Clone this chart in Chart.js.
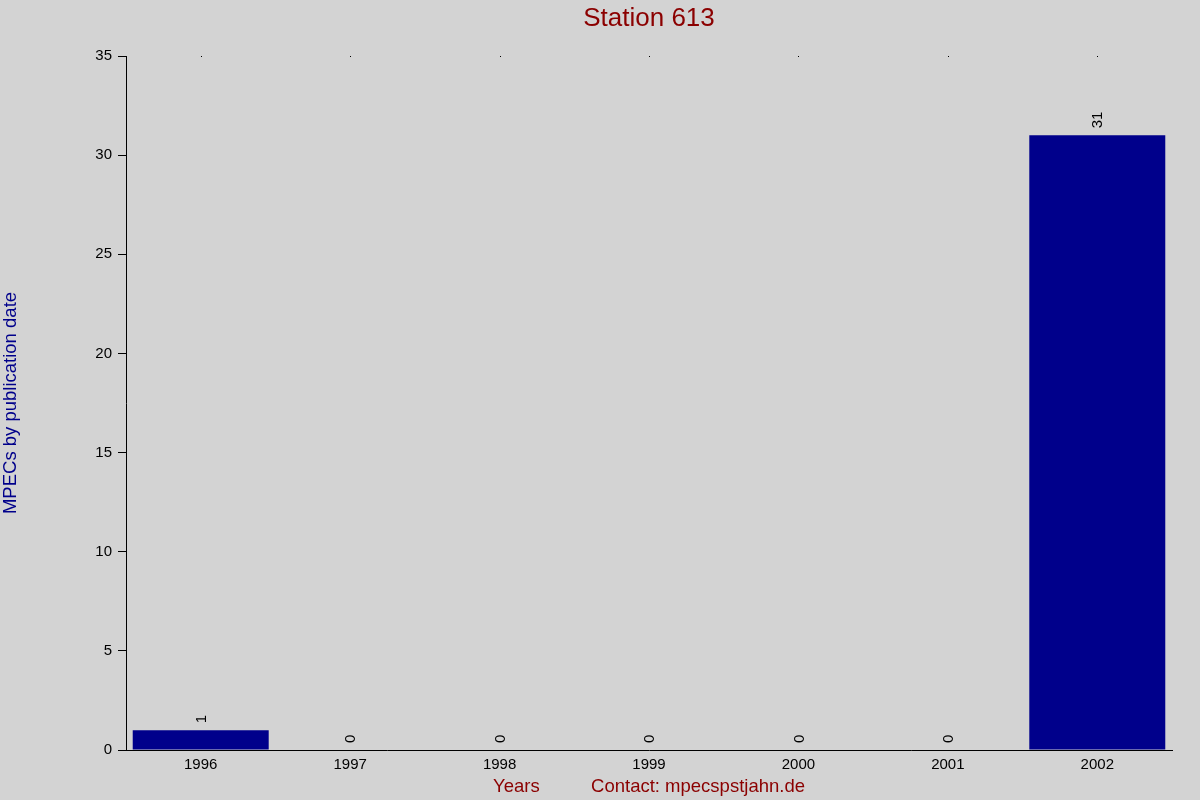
<!DOCTYPE html>
<html>
<head>
<meta charset="utf-8">
<script src="https://cdn.jsdelivr.net/npm/chart.js@4/dist/chart.umd.min.js"></script>
<style>
  html, body { margin: 0; padding: 0; background: #d3d3d3; }
  #station { display: block; width: 1200px; height: 800px; }
</style>
</head>
<body>
<canvas id="station" width="1200" height="800"></canvas>
<script>
const years = ['1996', '1997', '1998', '1999', '2000', '2001', '2002']
const mpecs = [1, 0, 0, 0, 0, 0, 31]
const yTicks = [0, 5, 10, 15, 20, 25, 30, 35]
const chartTitle = 'Station 613'

const darkRed = '#8b0000'
const darkBlue = '#00008b'
const fontFam = 'Arial, "Liberation Sans", sans-serif'

// value labels, rotated, above each bar
const barLabels = {
    id: 'barLabels',
    afterDatasetsDraw(chart) {
        const ctx = chart.ctx
        const meta = chart.getDatasetMeta(0)
        ctx.save()
        ctx.fillStyle = '#000'
        ctx.font = '15px ' + fontFam
        ctx.textAlign = 'left'
        ctx.textBaseline = 'middle'
        meta.data.forEach((bar, i) => {
            ctx.save()
            ctx.translate(bar.x + 1, bar.y - 7)
            ctx.rotate(-Math.PI / 2)
            ctx.fillText(String(mpecs[i]), 0, 0)
            ctx.restore()
        })
        ctx.restore()
    }
}

// tiny dots at top of plot + title centred over the plot area
const topDots = {
    id: 'topDots',
    afterDraw(chart) {
        const ctx = chart.ctx
        const xs = chart.scales.x
        const area = chart.chartArea
        ctx.save()
        ctx.fillStyle = '#000'
        years.forEach((y, i) => {
            ctx.fillRect(Math.round(xs.getPixelForValue(i)), area.top, 1, 1)
        })
        ctx.fillStyle = darkRed
        ctx.font = '26px ' + fontFam
        ctx.textAlign = 'center'
        ctx.textBaseline = 'middle'
        ctx.fillText(chartTitle, (area.left + area.right) / 2, 19)
        ctx.restore()
    }
}

const stationChart = new Chart(document.getElementById('station').getContext('2d'), {
    type: 'bar',
    data: {
        labels: years,
        datasets: [{
            label: 'MPECs',
            data: mpecs,
            backgroundColor: darkBlue,
            borderWidth: 0,
            categoryPercentage: 1,
            barPercentage: 0.91
        }]
    },
    options: {
        responsive: false,
        maintainAspectRatio: false,
        animation: false,
        devicePixelRatio: 1,
        layout: { padding: { left: 0, right: 28, top: 56, bottom: 0 } },
        plugins: {
            legend: { display: false },
            tooltip: { enabled: false },
            title: { display: false }
        },
        scales: {
            x: {
                grid: { display: false, drawTicks: false },
                border: { display: true, color: '#000', width: 1 },
                ticks: {
                    color: '#000',
                    padding: 6,
                    font: { family: fontFam, size: 15 }
                },
                title: {
                    display: true,
                    text: 'Years          Contact: mpecspstjahn.de',
                    color: darkRed,
                    font: { family: fontFam, size: 18.5 },
                    padding: { top: 0, bottom: 2 }
                },
                afterFit(scale) { scale.height = 50 }
            },
            y: {
                min: 0,
                max: 35,
                afterBuildTicks(scale) { scale.ticks = yTicks.map(v => ({ value: v })) },
                grid: { drawOnChartArea: false, drawTicks: true, tickLength: 8, color: '#000' },
                border: { display: true, color: '#000', width: 1 },
                ticks: {
                    color: '#000',
                    padding: 6,
                    font: { family: fontFam, size: 15 }
                },
                title: {
                    display: true,
                    text: 'MPECs by publication date',
                    color: darkBlue,
                    font: { family: fontFam, size: 18.5 },
                    padding: { top: 0, bottom: 0 }
                },
                afterFit(scale) { scale.width = 126 }
            }
        }
    },
    plugins: [barLabels, topDots]
})
</script>
</body>
</html>
